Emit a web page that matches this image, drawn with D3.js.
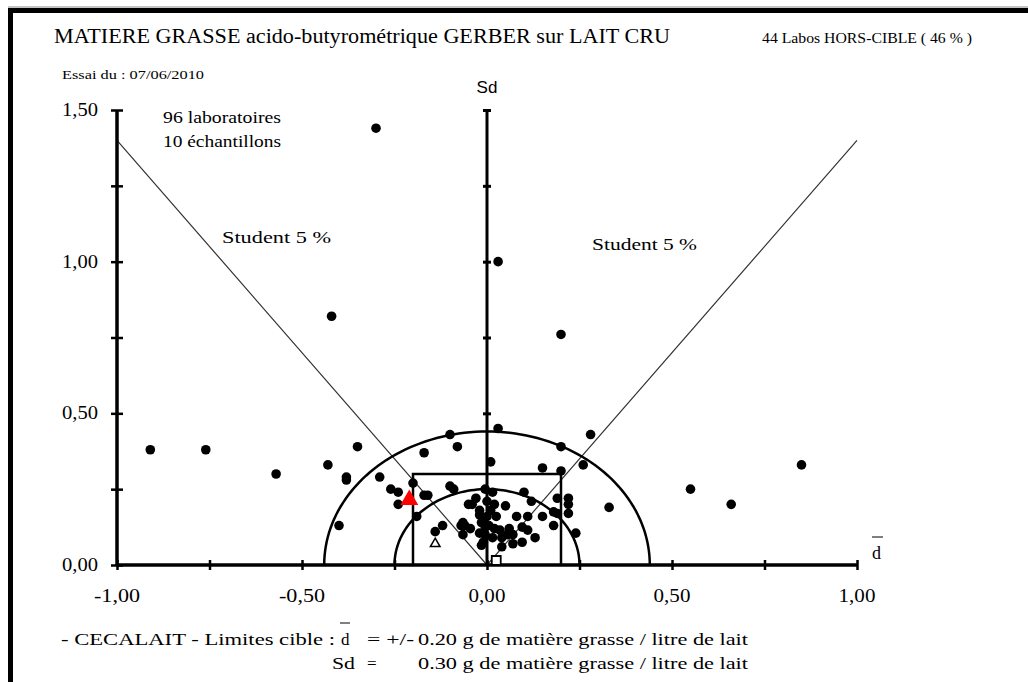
<!DOCTYPE html>
<html><head><meta charset="utf-8">
<script src="https://cdn.jsdelivr.net/npm/d3@7"></script>
<style>body{margin:0;background:#fff}svg{display:block} text{font-family:"Liberation Serif","Times New Roman",Tinos,serif}</style>
</head><body>
<script>
// ---- data ----
const labPoints = [
  [-0.30,1.44],[0.03,1.00],[-0.42,0.82],[0.20,0.76],[-0.91,0.38],[-0.76,0.38],[-0.57,0.30],[-0.43,0.33],
  [-0.35,0.39],[-0.38,0.29],[-0.38,0.28],[-0.40,0.13],[0.55,0.25],[0.66,0.20],[0.85,0.33],[0.33,0.19],
  [0.28,0.43],[0.03,0.45],
  [-0.29,0.29],[-0.26,0.25],[-0.24,0.24],[-0.24,0.20],[-0.20,0.27],[-0.17,0.23],[-0.16,0.23],[-0.19,0.16],
  [-0.17,0.37],[-0.10,0.43],[-0.08,0.39],[-0.10,0.26],[-0.09,0.25],
  [-0.14,0.11],[-0.12,0.13],[-0.07,0.13],[-0.065,0.10],[-0.065,0.14],[-0.06,0.13],[-0.05,0.20],[-0.04,0.20],
  [-0.03,0.22],[-0.02,0.18],[-0.02,0.165],[-0.01,0.155],[0.00,0.16],[-0.015,0.14],[-0.005,0.125],[0.005,0.13],
  [-0.02,0.105],[-0.005,0.10],[-0.015,0.065],[-0.01,0.075],[0.00,0.21],[-0.005,0.25],[0.015,0.24],[0.01,0.34],
  [0.20,0.39],[0.26,0.33],[0.15,0.32],[0.20,0.31],[0.10,0.24],[0.12,0.21],[0.19,0.22],[0.22,0.22],[0.22,0.20],
  [0.18,0.175],[0.19,0.17],[0.22,0.17],[0.18,0.13],[0.15,0.16],[0.05,0.195],[0.08,0.16],[0.11,0.16],
  [0.095,0.125],[0.11,0.115],[0.06,0.12],[0.07,0.10],[0.035,0.115],[0.04,0.09],[0.07,0.07],[0.04,0.06],
  [0.095,0.075],[0.13,0.09],[0.24,0.105],[0.02,0.20],[0.01,0.18],[0.02,0.12],[0.015,0.09],
  [0.025,0.16],[-0.045,0.12],[0.055,0.10]
];
const ownLab = [-0.21, 0.215];      // red triangle
const refTriangle = [-0.14, 0.07];  // open triangle
const refSquare = [0.025, 0.015];   // open square
const xTickValues = [-1,-0.75,-0.5,-0.25,0,0.25,0.5,0.75,1];
const xLabelValues = [-1,-0.5,0,0.5,1];
const xLabelTexts = ["-1,00","-0,50","0,00","0,50","1,00"];
const yTickValues = [0,0.25,0.5,0.75,1,1.25,1.5];
const yLabelValues = [0,0.5,1,1.5];
const yLabelTexts = ["0,00","0,50","1,00","1,50"];
const studentSlope = 1.40;
const circleRadii = [0.25, 0.44];
const targetD = 0.20, targetSd = 0.30;

const W = 1028, H = 682;
const svg = d3.select("body").append("svg").attr("width", W).attr("height", H);
const x = d3.scaleLinear().domain([-1,1]).range([117,857]);
const y = d3.scaleLinear().domain([0,1.5]).range([565,110]);
const serif = '"Liberation Serif","Times New Roman",Tinos,serif';
const sans = '"Liberation Sans",Arial,sans-serif';

// frame
svg.append("rect").attr("x",8).attr("y",8).attr("width",W-8).attr("height",5).attr("fill","#000");
svg.append("rect").attr("x",8).attr("y",8).attr("width",5).attr("height",H-8).attr("fill","#000");
svg.append("line").attr("x1",8).attr("x2",W).attr("y1",7).attr("y2",7).attr("stroke","#888").attr("stroke-width",1);

function txt(t, px, py, size, opts={}) {
  const e = svg.append("text").attr("x",px).attr("y",py)
    .attr("font-size",size).attr("fill","#000").text(t);
  e.style("font-family", opts.family||serif);
  if (opts.anchor) e.attr("text-anchor",opts.anchor);
  if (opts.len) e.attr("textLength",opts.len).attr("lengthAdjust","spacingAndGlyphs");
  return e;
}

txt("MATIERE GRASSE acido-butyrométrique GERBER sur LAIT CRU", 54, 43, 20, {len:616});
txt("44 Labos HORS-CIBLE ( 46 % )", 762, 43, 14, {len:210});
txt("Essai du : 07/06/2010", 62, 79, 13, {len:142});
txt("Sd", 487, 93, 17, {family:sans, anchor:"middle"});
txt("96 laboratoires", 163, 123, 16, {len:118});
txt("10 échantillons", 163, 147, 16, {len:118});
txt("Student 5 %", 222, 243, 17, {len:109});
txt("Student 5 %", 592, 250, 17, {len:105});

// student lines
const lineG = d3.line().x(d=>x(d[0])).y(d=>y(d[1]));
svg.append("path").attr("d", lineG([[-1,studentSlope],[0,0],[1,studentSlope]]))
  .attr("fill","none").attr("stroke","#333").attr("stroke-width",1.2);

// semi circles
circleRadii.forEach(r=>{
  const pts = d3.range(0,181,2).map(a=>[r*Math.cos(a*Math.PI/180), r*Math.sin(a*Math.PI/180)]);
  svg.append("path").attr("d", lineG(pts)).attr("fill","none").attr("stroke","#000").attr("stroke-width",2.5);
});

// target rectangle
svg.append("path").attr("d", lineG([[-targetD,0],[-targetD,targetSd],[targetD,targetSd],[targetD,0]]))
  .attr("fill","none").attr("stroke","#000").attr("stroke-width",2.5);

// axes
const axX = svg.append("g").attr("transform",`translate(0,${y(0)})`)
  .call(d3.axisBottom(x).tickValues(xTickValues).tickSize(5).tickFormat(""));
axX.select(".domain").attr("d",`M${x(-1)},0H${x(1)}`).attr("stroke-width",3.5);
axX.selectAll(".tick line").attr("y1",-5).attr("y2",5).attr("stroke-width",2.5);

const axY = svg.append("g").attr("transform",`translate(${x(-1)},0)`)
  .call(d3.axisLeft(y).tickValues(yTickValues).tickSize(6).tickFormat(""));
axY.select(".domain").attr("d",`M0,${y(0)}V${y(1.5)}`).attr("stroke-width",3.5);
axY.selectAll(".tick line").attr("x1",-6).attr("x2",6).attr("stroke-width",2.5);

const axC = svg.append("g").attr("transform",`translate(${x(0)},0)`)
  .call(d3.axisLeft(y).tickValues(yTickValues.slice(1)).tickSize(4).tickFormat(""));
axC.select(".domain").attr("d",`M0,${y(0)}V${y(1.5)}`).attr("stroke-width",3);
axC.selectAll(".tick line").attr("x1",-4).attr("x2",4).attr("stroke-width",3);

// tick labels
xLabelValues.forEach((v,i)=>txt(xLabelTexts[i], x(v), 602, 18, {anchor:"middle", len: xLabelTexts[i].length*9.2}));
yLabelValues.forEach((v,i)=>txt(yLabelTexts[i], 98, y(v)+6, 18, {anchor:"end", len:36}));

// d-bar axis label
txt("d", 872, 559, 18);
svg.append("line").attr("x1",872).attr("x2",883).attr("y1",537).attr("y2",537).attr("stroke","#000").attr("stroke-width",1);

// points
svg.append("g").selectAll("circle").data(labPoints).join("circle")
  .attr("cx",d=>x(d[0])).attr("cy",d=>y(d[1])).attr("r",4.8).attr("fill","#000");

svg.append("path").attr("d", d3.symbol(d3.symbolTriangle, 140)())
  .attr("transform",`translate(${x(ownLab[0])},${y(ownLab[1])})`).attr("fill","#f00");
svg.append("path").attr("d", d3.symbol(d3.symbolTriangle, 40)())
  .attr("transform",`translate(${x(refTriangle[0])},${y(refTriangle[1])})`).attr("fill","#fff").attr("stroke","#000").attr("stroke-width",1.5);
svg.append("path").attr("d", d3.symbol(d3.symbolSquare, 80)())
  .attr("transform",`translate(${x(refSquare[0])},${y(refSquare[1])})`).attr("fill","#fff").attr("stroke","#000").attr("stroke-width",1.8);

// bottom notes
txt("- CECALAIT  - Limites cible :", 61, 645, 17, {len:274});
txt("d", 341, 645, 17);
svg.append("line").attr("x1",340).attr("x2",350).attr("y1",623).attr("y2",623).attr("stroke","#000").attr("stroke-width",1);
txt("=  +/-", 367, 645, 17, {len:47});
txt("0.20 g de matière grasse / litre de lait", 418, 645, 17, {len:330});
txt("Sd", 332, 669, 17, {len:23});
txt("=", 367, 669, 17);
txt("0.30 g de matière grasse / litre de lait", 418, 669, 17, {len:330});
</script>
</body></html>
